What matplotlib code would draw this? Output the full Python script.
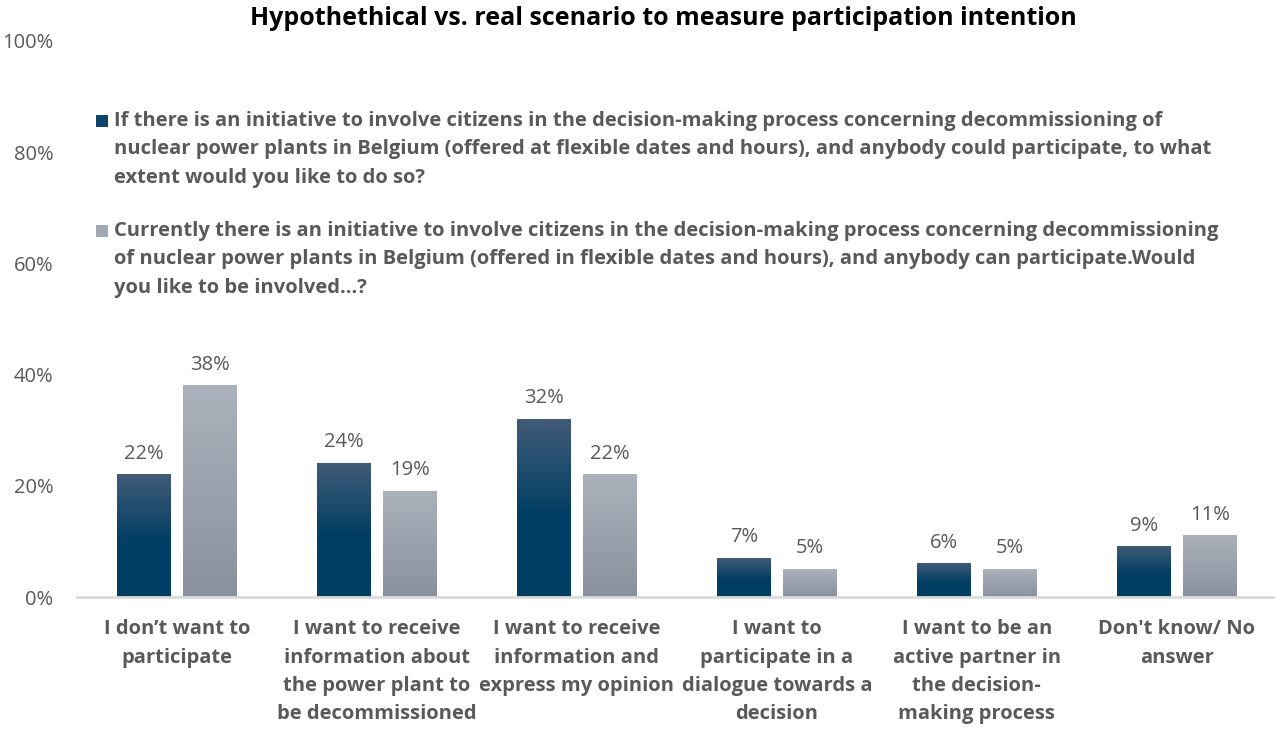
import numpy as np
import matplotlib.pyplot as plt
from matplotlib.patches import Rectangle
from matplotlib.colors import LinearSegmentedColormap

plt.rcParams['font.family'] = ['Open Sans', 'DejaVu Sans']

categories = [
    "I don\u2019t want to\nparticipate",
    "I want to receive\ninformation about\nthe power plant to\nbe decommissioned",
    "I want to receive\ninformation and\nexpress my opinion",
    "I want to\nparticipate in a\ndialogue towards a\ndecision",
    "I want to be an\nactive partner in\nthe decision-\nmaking process",
    "Don't know/ No\nanswer",
]
hypothetical = [22, 24, 32, 7, 6, 9]
real = [38, 19, 22, 5, 5, 11]

label_hyp = ("If there is an initiative to involve citizens in the decision-making process concerning decommissioning of\n"
             "nuclear power plants in Belgium (offered at flexible dates and hours), and anybody could participate, to what\n"
             "extent would you like to do so?")
label_real = ("Currently there is an initiative to involve citizens in the decision-making process concerning decommissioning\n"
              "of nuclear power plants in Belgium (offered in flexible dates and hours), and anybody can participate.Would\n"
              "you like to be involved...?")

txt = '#595959'
dark_cmap = LinearSegmentedColormap.from_list('d', [(0, '#003e63'), (0.45, '#003e63'), (1, '#415b77')])
gray_cmap = LinearSegmentedColormap.from_list('g', ['#89919e', '#abb2bb'])

fig = plt.figure(figsize=(12.75, 7.29), dpi=100)
ax = fig.add_axes([0.0604, 0.181, 0.941, 0.763])

x = np.arange(len(categories))
w = 0.27
gap = 0.06
grad = np.linspace(0, 1, 256).reshape(-1, 1)

for vals, off, cmap in [(hypothetical, -(w + gap) / 2, dark_cmap), (real, (w + gap) / 2, gray_cmap)]:
    bars = ax.bar(x + off, vals, w, color='none')
    for b, v in zip(bars, vals):
        x0 = b.get_x()
        ax.imshow(grad, cmap=cmap, origin='lower', aspect='auto',
                  extent=(x0, x0 + w, 0, v), zorder=2)
        ax.text(x0 + w / 2, v + 2.0, f"{v}%", ha='center', va='bottom',
                fontsize=14.5, color=txt)

ax.set_xlim(-0.5, len(categories) - 0.5)
ax.set_ylim(0, 100)
ax.set_yticks(range(0, 101, 20))
ax.set_yticklabels([f"{t}%" for t in range(0, 101, 20)])
ax.set_xticks(x)
ax.set_xticklabels(categories, fontweight='bold', fontsize=14.5, color=txt, linespacing=1.55)
ax.tick_params(axis='y', length=0, labelsize=14.5, labelcolor=txt, pad=17)
ax.tick_params(axis='x', length=0, pad=16)
for s in ['top', 'right', 'left']:
    ax.spines[s].set_visible(False)
ax.spines['bottom'].set_color('#d9d9d9')
ax.spines['bottom'].set_linewidth(2)

# legend drawn by hand so the square sits at the first line
H = 729.0
W = 1275.0
for label, top, col in [(label_hyp, 111, '#0d4468'), (label_real, 221, '#a0a8b2')]:
    fig.text(114 / W, 1 - top / H, label, ha='left', va='top', fontsize=14.5,
             fontweight='bold', color=txt, linespacing=1.55)
    fig.add_artist(Rectangle((96 / W, 1 - (top + 16) / H), 12 / W, 12 / H,
                             transform=fig.transFigure, facecolor=col, edgecolor='none'))

fig.text(0.52, 0.975, "Hypothethical vs. real scenario to measure participation intention",
         ha='center', va='center', fontsize=18, fontweight='bold', color='black')

fig.savefig('out.png', dpi=100)
